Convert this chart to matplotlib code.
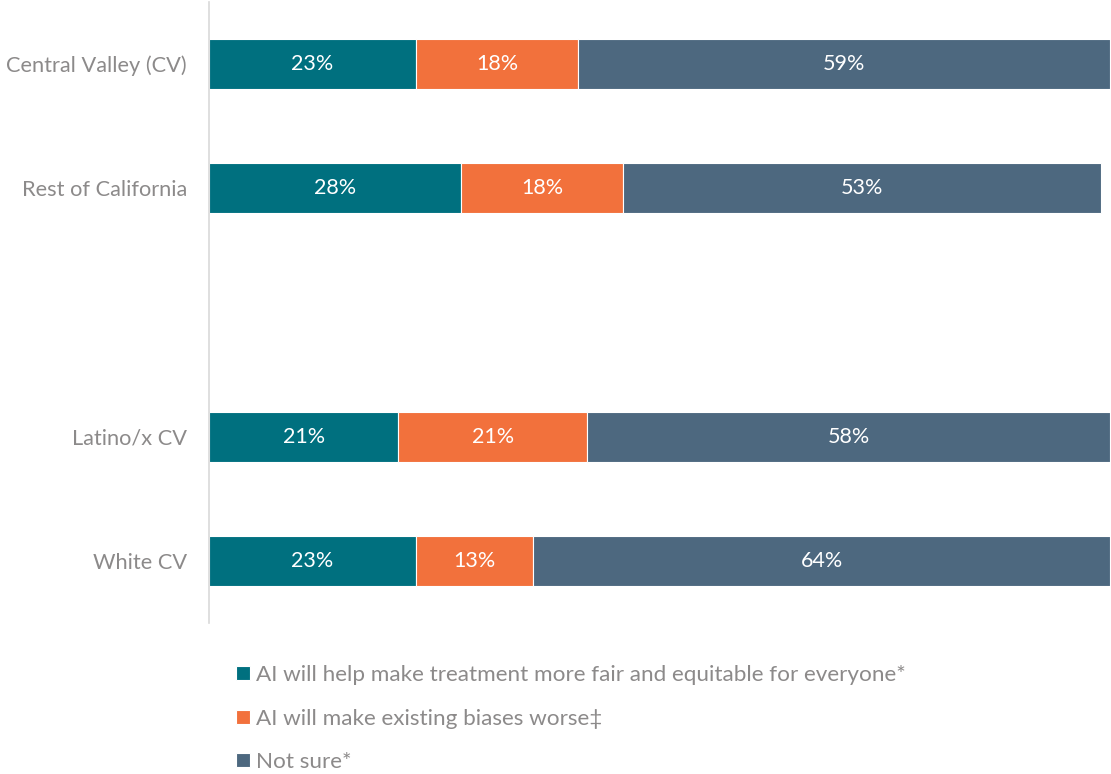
import matplotlib.pyplot as plt
import numpy as np

plt.rcParams['font.family'] = ['Lato', 'DejaVu Sans']

groups = ['Central Valley (CV)', 'Rest of California', 'Latino/x CV', 'White CV']
rows = [0, 1, 3, 4]   # blank slot between the regional and ethnic groups

fair = [23, 28, 21, 23]
worse = [18, 18, 21, 13]
not_sure = [59, 53, 58, 64]

series = [
    ('AI will help make treatment more fair and equitable for everyone*', fair, '#00707F'),
    ('AI will make existing biases worse\u2021', worse, '#F2713C'),
    ('Not sure*', not_sure, '#4D687F'),
]

grey = '#8C8A8A'

fig = plt.figure(figsize=(11.11, 7.74), dpi=100)
ax = fig.add_axes([209 / 1111, 1 - 623 / 774, 901 / 1111, 621 / 774])

left = np.zeros(len(groups))
for label, vals, color in series:
    bars = ax.barh(rows, vals, left=left, height=0.4, color=color,
                   edgecolor='white', linewidth=0.8, label=label)
    ax.bar_label(bars, labels=[f'{v}%' for v in vals], label_type='center',
                 color='white', fontsize=15.5)
    left += np.array(vals)

ax.set_xlim(0, 100)
ax.set_ylim(4.5, -0.5)
ax.set_yticks(rows)
ax.set_yticklabels(groups, fontsize=15.7, color=grey)
ax.tick_params(axis='y', length=0, pad=16)
ax.set_xticks([])
for side in ['top', 'right', 'bottom']:
    ax.spines[side].set_visible(False)
ax.spines['left'].set_color('#D9D9D9')
ax.spines['left'].set_linewidth(1.2)

fig.legend(loc='upper left', bbox_to_anchor=(227 / 1111, 1 - 656 / 774),
           frameon=False, fontsize=16.2, labelcolor=grey,
           handlelength=0.6, handleheight=0.6, handletextpad=0.3,
           labelspacing=1.05, borderaxespad=0)

fig.savefig('out.png', dpi=100)
